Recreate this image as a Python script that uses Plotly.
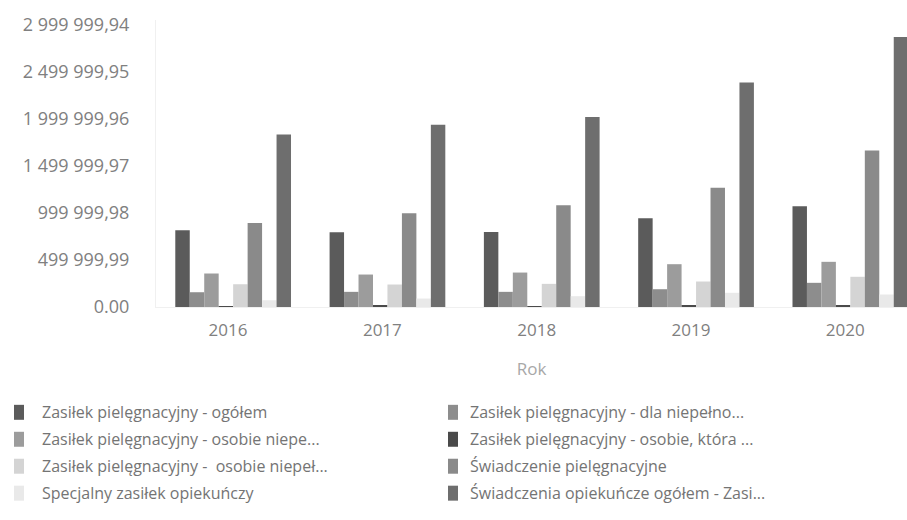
import plotly.graph_objects as go

# Years on the category axis
years = ["2016", "2017", "2018", "2019", "2020"]

# Series names as shown in the legend
names = [
    "Zasiłek pielęgnacyjny - ogółem",
    "Zasiłek pielęgnacyjny - dla niepełno...",
    "Zasiłek pielęgnacyjny - osobie niepe...",
    "Zasiłek pielęgnacyjny - osobie, która ...",
    "Zasiłek pielęgnacyjny - \u00a0osobie niepeł...",
    "Świadczenie pielęgnacyjne",
    "Specjalny zasiłek opiekuńczy",
    "Świadczenia opiekuńcze ogółem - Zasi...",
]

# Values per series, one per year
zp_ogolem = [816000, 794000, 798000, 943000, 1070000]
zp_dla_niepelno = [157000, 161000, 161000, 189000, 257000]
zp_osobie_niepe = [356000, 345000, 366000, 455000, 480000]
zp_osobie_ktora = [10000, 12000, 10000, 12000, 15000]
zp_osobie_niepel = [242000, 239000, 246000, 271000, 321000]
sw_pielegnacyjne = [894000, 996000, 1081000, 1266000, 1662000]
specjalny_zasilek = [72000, 90000, 115000, 151000, 133000]
sw_opiekuncze_ogolem = [1832000, 1938000, 2020000, 2387000, 2869000]

series = [
    zp_ogolem, zp_dla_niepelno, zp_osobie_niepe, zp_osobie_ktora,
    zp_osobie_niepel, sw_pielegnacyjne, specjalny_zasilek, sw_opiekuncze_ogolem,
]

colors = ["#5b5b5b", "#8d8d8d", "#9c9c9c", "#4a4a4a",
          "#d4d4d4", "#8a8a8a", "#e9e9e9", "#6e6e6e"]

# Y tick labels
y_tickvals = [0, 499999.99, 999999.98, 1499999.97, 1999999.96, 2499999.95, 2999999.94]
y_ticktext = ["0.00", "499 999,99", "999 999,98", "1 499 999,97",
              "1 999 999,96", "2 499 999,95", "2 999 999,94"]

x_pos = list(range(len(years)))

fig = go.Figure()
for name, vals, col in zip(names, series, colors):
    fig.add_trace(go.Bar(x=x_pos, y=vals, name=name, showlegend=False,
                         marker=dict(color=col, line=dict(width=0))))

W, H = 907, 520
left, right_edge, top, bottom = 156, 907, 20, 307.5
step = 154.3  # px per category
x_max = -0.5 + (right_edge - left) / step


def px_x(px):
    return (px - left) / (right_edge - left)


def px_y(py):
    return (bottom - py) / (bottom - top)


# Two-column legend, filled row by row
legend_cols = [(14, 40), (448, 468)]   # swatch left, text left
legend_rows = [413, 440, 467, 494]
sw_w, sw_h = 10, 15
shapes, annotations = [], []
for i, (name, col) in enumerate(zip(names, colors)):
    sx, tx = legend_cols[i % 2]
    cy = legend_rows[i // 2]
    shapes.append(dict(type="rect", xref="paper", yref="paper",
                       x0=px_x(sx), x1=px_x(sx + sw_w),
                       y0=px_y(cy + sw_h / 2), y1=px_y(cy - sw_h / 2),
                       fillcolor=col, line=dict(width=0), layer="above"))
    annotations.append(dict(text=name, xref="paper", yref="paper",
                            x=px_x(tx), y=px_y(cy), xanchor="left", yanchor="middle",
                            showarrow=False, font=dict(size=16, color="#747474")))

font_family = "Open Sans, sans-serif"
fig.update_layout(
    width=W, height=H,
    margin=dict(l=left, r=W - right_edge, t=top, b=H - bottom, pad=0),
    paper_bgcolor="white", plot_bgcolor="white",
    barmode="group", bargap=0.25, bargroupgap=0,
    font=dict(family=font_family, color="#808080", size=18),
    xaxis=dict(
        range=[-0.5, x_max],
        tickvals=[i - 0.033 for i in x_pos], ticktext=years,
        showgrid=False, zeroline=False,
        showline=True, linecolor="#f0f0f0", linewidth=1,
        ticks="outside", ticklen=8, tickcolor="rgba(0,0,0,0)",
        tickfont=dict(size=17, color="#808080"),
        title=dict(text="Rok", font=dict(size=17, color="#a8a8a8"), standoff=22),
    ),
    yaxis=dict(
        range=[0, 3.05e6],
        tickvals=y_tickvals, ticktext=y_ticktext,
        showgrid=False, zeroline=False,
        showline=True, linecolor="#f0f0f0", linewidth=1,
        ticks="outside", ticklen=22, tickcolor="rgba(0,0,0,0)",
        tickfont=dict(size=18, color="#808080"),
    ),
    shapes=shapes,
    annotations=annotations,
    showlegend=False,
)

fig.write_html("out.html")
